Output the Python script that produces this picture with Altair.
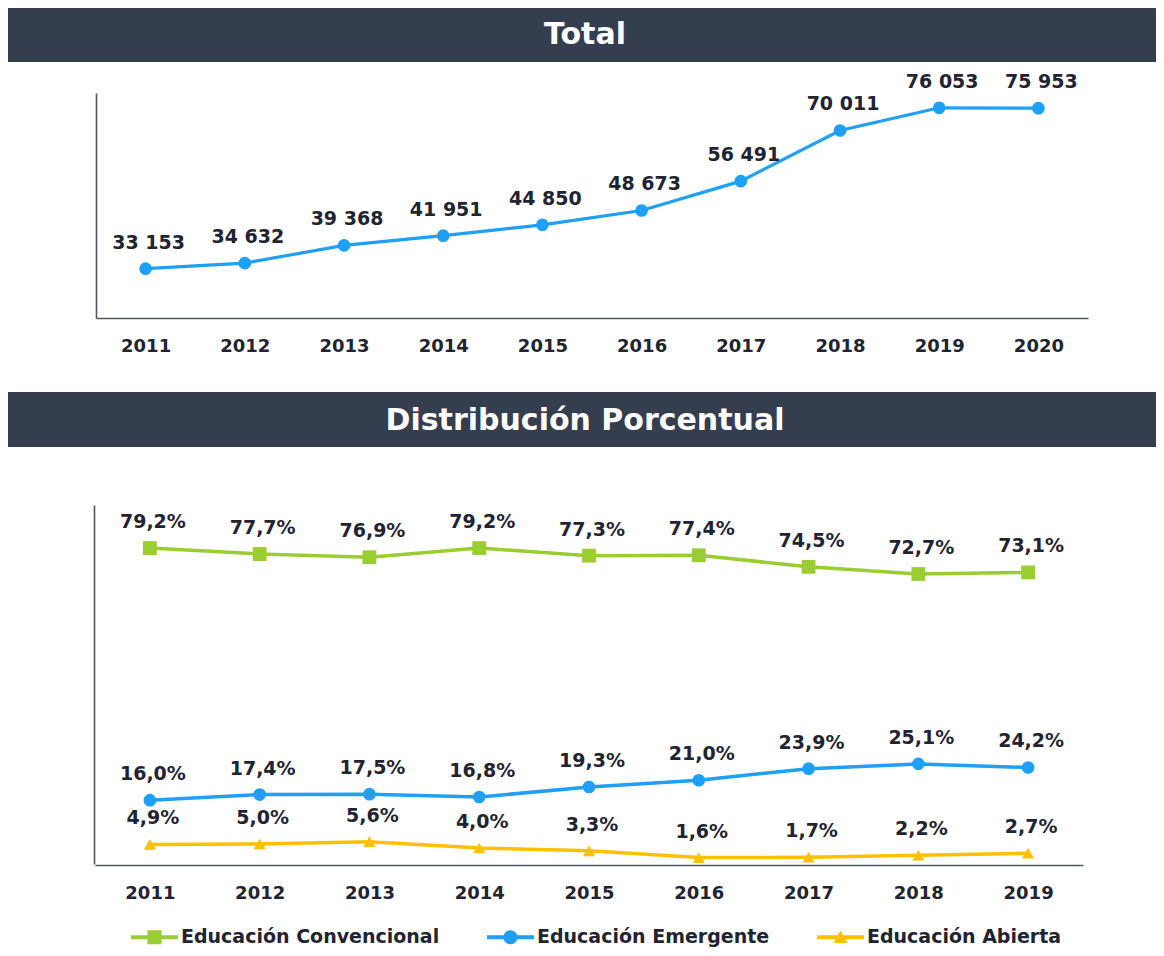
import altair as alt
import pandas as pd

# ---------------- data ----------------
title_total = "Total"
title_dist = "Distribución Porcentual"

years_total = [2011, 2012, 2013, 2014, 2015, 2016, 2017, 2018, 2019, 2020]
total_values = [33153, 34632, 39368, 41951, 44850, 48673, 56491, 70011, 76053, 75953]

years_dist = [2011, 2012, 2013, 2014, 2015, 2016, 2017, 2018, 2019]
series_names = ["Educación Convencional", "Educación Emergente", "Educación Abierta"]
conv_values = [79.2, 77.7, 76.9, 79.2, 77.3, 77.4, 74.5, 72.7, 73.1]
emer_values = [16.0, 17.4, 17.5, 16.8, 19.3, 21.0, 23.9, 25.1, 24.2]
abie_values = [4.9, 5.0, 5.6, 4.0, 3.3, 1.6, 1.7, 2.2, 2.7]

# ---------------- style ----------------
W, H = 1148, 940
FONT = "DejaVu Sans"
ink = "#1f2430"
header_fill = "#343e4e"
axis_color = "#50555c"
series_colors = ["#9ACD32", "#1EA0F8", "#FFC000"]
series_shapes = ["square", "circle", "triangle-up"]
series_sizes = [190, 160, 150]
legend_paths = [
    "M-1,-0.09H1V0.09H-1Z M-0.3,-0.3H0.3V0.3H-0.3Z",
    "M-1,-0.09H1V0.09H-1Z M0.3,0A0.3,0.3 0 1,1 -0.3,0A0.3,0.3 0 1,1 0.3,0Z",
    "M-1,-0.09H1V0.09H-1Z M0,-0.29L0.3,0.24L-0.3,0.24Z",
]

df_total = pd.DataFrame({"year": years_total, "value": total_values})
rows = []
for name, vals in zip(series_names, [conv_values, emer_values, abie_values]):
    for yr, v in zip(years_dist, vals):
        rows.append({"year": yr, "series": name, "value": v})
df_dist = pd.DataFrame(rows)


def header(title, top, bottom, baseline_y):
    d = alt.Data(values=[{"title": title}])
    rect = alt.Chart(d).mark_rect(color=header_fill).encode(
        x=alt.value(0), x2=alt.value(W), y=alt.value(top), y2=alt.value(bottom)
    )
    text = alt.Chart(d).mark_text(
        font=FONT, fontSize=30, fontWeight="bold", color="white",
        align="center", baseline="alphabetic",
    ).encode(x=alt.value(577), y=alt.value(baseline_y), text="title:N")
    return rect, text


def x_axis(offset):
    return alt.Axis(
        orient="bottom", offset=offset, title=None, labelAngle=0, ticks=False,
        grid=False, domainColor=axis_color, domainWidth=1.6, labelFont=FONT,
        labelFontSize=18, labelFontWeight="bold", labelColor=ink, labelPadding=19,
    )


def y_axis(offset):
    return alt.Axis(
        orient="left", offset=offset, title=None, labels=False, ticks=False,
        grid=False, domainColor=axis_color, domainWidth=1.6,
    )


# ---------------- top panel ----------------
xt = alt.X("year:O", scale=alt.Scale(type="point", domain=years_total, range=[88, 1080], padding=0.5),
           axis=x_axis(310 - H))
yt = alt.Y("value:Q", scale=alt.Scale(domain=[20000, 80000], range=[310, 85], nice=False, zero=False),
           axis=y_axis(-88))

top_base = alt.Chart(df_total).encode(x=xt, y=yt)
top_line = top_base.mark_line(color=series_colors[1], strokeWidth=3.2)
top_pts = top_base.mark_point(filled=True, opacity=1, shape="circle", size=160, color=series_colors[1])
top_lbl = top_base.transform_calculate(
    label="replace(format(datum.value, ','), ',', ' ')"
).mark_text(font=FONT, fontSize=19, fontWeight="bold", color=ink, dy=-20, dx=3,
            baseline="alphabetic").encode(text="label:N")
h1r, h1t = header(title_total, 0, 54, 36)
top = alt.layer(h1r, h1t, top_line, top_pts, top_lbl)

# ---------------- bottom panel ----------------
xb = alt.X("year:O", scale=alt.Scale(type="point", domain=years_dist, range=[87, 1075], padding=0.5),
           axis=x_axis(857 - H))
yb = alt.Y("value:Q", scale=alt.Scale(domain=[0, 90], range=[856, 497], nice=False, zero=False),
           axis=y_axis(-86))

bottom_layers = []
h2r, h2t = header(title_dist, 384, 439, 422)
bottom_layers += [h2r, h2t]
for name, col, shp, sz in zip(series_names, series_colors, series_shapes, series_sizes):
    b = alt.Chart(df_dist).transform_filter(alt.datum.series == name).encode(x=xb, y=yb)
    bottom_layers.append(b.mark_line(color=col, strokeWidth=3.5))
    bottom_layers.append(b.mark_point(filled=True, opacity=1, shape=shp, size=sz, color=col))

bottom_lbl = alt.Chart(df_dist).transform_calculate(
    label="replace(format(datum.value, '.1f'), '.', ',') + '%'"
).mark_text(font=FONT, fontSize=19, fontWeight="bold", color=ink, dy=-20, dx=3,
            baseline="alphabetic").encode(x=xb, y=yb, text="label:N")
bottom_layers.append(bottom_lbl)

leg = dict(
    orient="none", legendX=123, legendY=929 - 23.5, direction="horizontal", title=None,
    symbolSize=2209, symbolStrokeWidth=0, symbolOpacity=1, labelFont=FONT,
    labelFontSize=19, labelFontWeight="bold", labelColor=ink, labelOffset=3,
    columnPadding=47, padding=0, labelLimit=400,
)
legend_layer = alt.Chart(df_dist).transform_filter("false").mark_point(
    filled=True, opacity=1
).encode(
    color=alt.Color("series:N", scale=alt.Scale(domain=series_names, range=series_colors),
                    legend=alt.Legend(**leg)),
    shape=alt.Shape("series:N", scale=alt.Scale(domain=series_names, range=legend_paths),
                    legend=alt.Legend(**leg)),
)
bottom_layers.append(legend_layer)
bottom = alt.layer(*bottom_layers)

chart = alt.layer(top, bottom).resolve_scale(x="independent", y="independent").properties(
    width=W, height=H, autosize=alt.AutoSizeParams(type="none"), padding=0,
    background="white",
).configure(font=FONT).configure_view(stroke=None)

chart.save("out.html", embed_options={"renderer": "svg", "actions": False})
